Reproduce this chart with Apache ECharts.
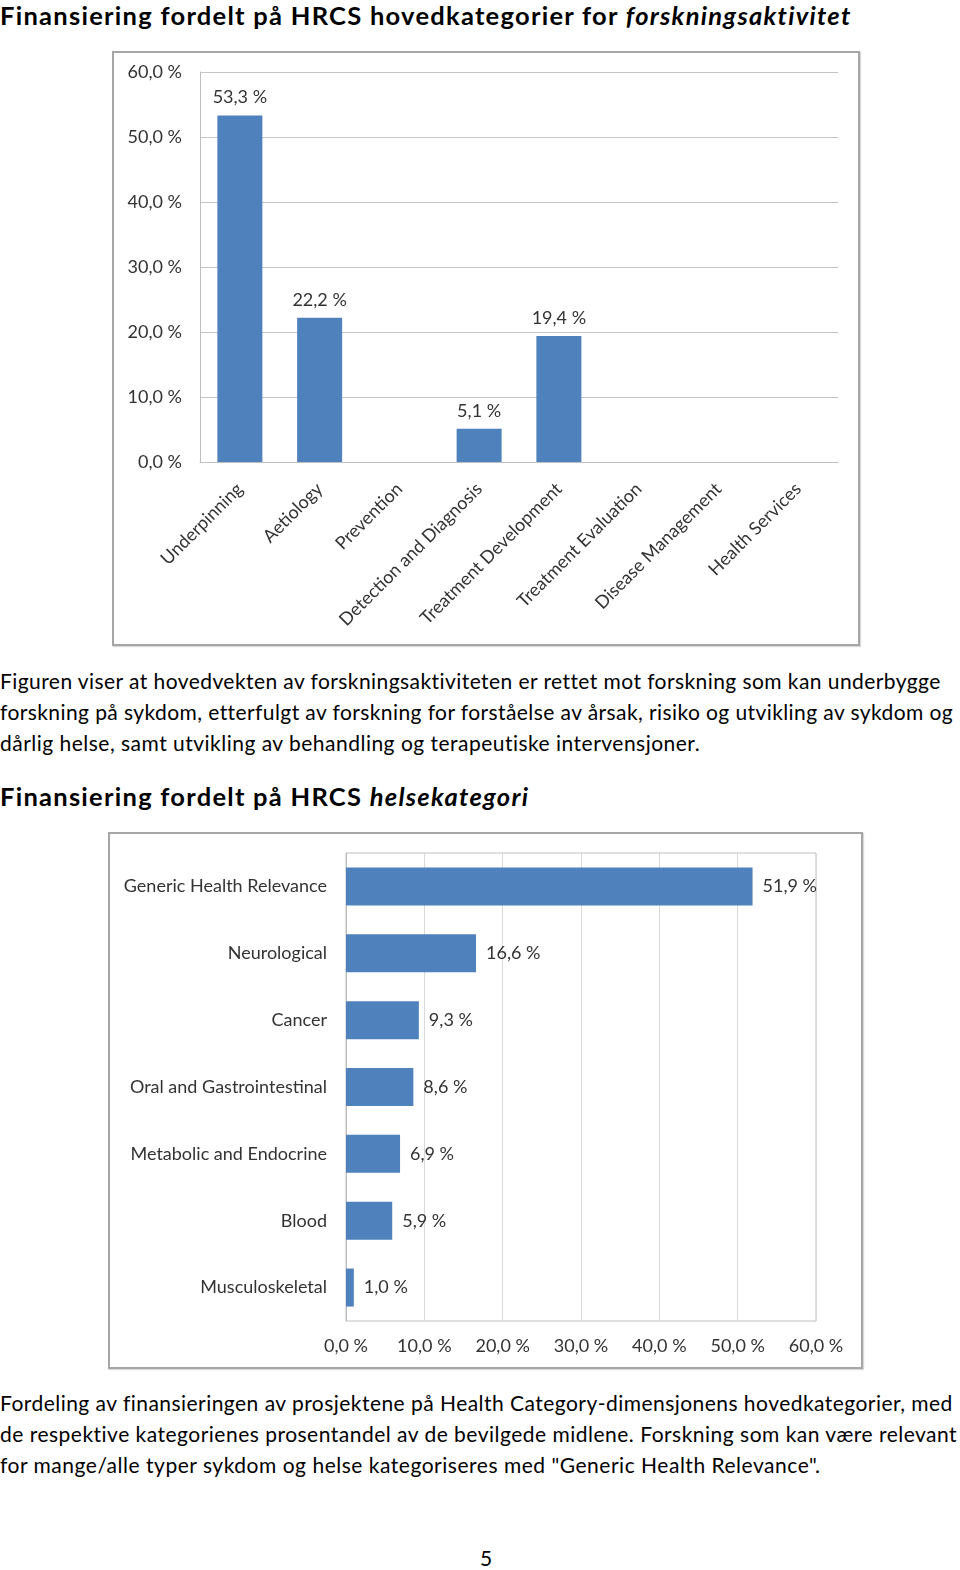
<!DOCTYPE html>
<html><head><meta charset="utf-8">
<script src="https://cdn.jsdelivr.net/npm/echarts/dist/echarts.min.js"></script>
<style>
html,body{margin:0;padding:0;background:#fff;}
#page{position:relative;width:960px;height:1570px;overflow:hidden;background:#fff;font-family:Lato,"Open Sans",sans-serif;color:#000;}
.ln{position:absolute;left:0;white-space:nowrap;}
.h{font-weight:bold;font-size:25.5px;line-height:30px;}
.p{font-size:21px;line-height:26px;}
.box{position:absolute;border:2px solid #a6a6a6;box-shadow:1px 1px 1px rgba(0,0,0,0.15);}
</style></head>
<body><div id="page">
<div class="ln h" data-w="850" style="top:0px">Finansiering fordelt på HRCS hovedkategorier for <i>forskningsaktivitet</i></div>
<div id="c1" class="box" style="left:112px;top:51px;width:744px;height:591px;"></div>
<div class="ln p" data-w="940" style="top:668px">Figuren viser at hovedvekten av forskningsaktiviteten er rettet mot forskning som kan underbygge</div>
<div class="ln p" data-w="952" style="top:699px">forskning på sykdom, etterfulgt av forskning for forståelse av årsak, risiko og utvikling av sykdom og</div>
<div class="ln p" data-w="700" style="top:730px">dårlig helse, samt utvikling av behandling og terapeutiske intervensjoner.</div>
<div class="ln h" data-w="528" style="top:781px">Finansiering fordelt på HRCS <i>helsekategori</i></div>
<div id="c2" class="box" style="left:108px;top:832px;width:751px;height:533px;"></div>
<div class="ln p" data-w="952" style="top:1390px">Fordeling av finansieringen av prosjektene på Health Category-dimensjonens hovedkategorier, med</div>
<div class="ln p" data-w="957" style="top:1421px">de respektive kategorienes prosentandel av de bevilgede midlene. Forskning som kan være relevant</div>
<div class="ln p" data-w="820" style="top:1452px">for mange/alle typer sykdom og helse kategoriseres med "Generic Health Relevance".</div>
<div class="ln p" style="top:1545px;left:480px;font-size:21px;">5</div>
</div>
<script>
// ---- data ----
const activityCategories = ['Underpinning','Aetiology','Prevention','Detection and Diagnosis','Treatment Development','Treatment Evaluation','Disease Management','Health Services'];
const activityValues = [53.3, 22.2, null, 5.1, 19.4, null, null, null];
const healthCategories = ['Generic Health Relevance','Neurological','Cancer','Oral and Gastrointestinal','Metabolic and Endocrine','Blood','Musculoskeletal'];
const healthValues = [51.9, 16.6, 9.3, 8.6, 6.9, 5.9, 1.0];
const tickValues = [0, 10, 20, 30, 40, 50, 60];
const tickLabels = ['0,0 %','10,0 %','20,0 %','30,0 %','40,0 %','50,0 %','60,0 %'];

// fit text lines to measured widths
document.querySelectorAll('[data-w]').forEach(el => {
  const target = +el.dataset.w;
  const n = el.textContent.length;
  const w = el.getBoundingClientRect().width;
  el.style.letterSpacing = ((target - w) / (n - 1)) + 'px';
});

const FONT = 'Lato';
const TXT = '#333333';
const BLUE = '#4f81bd';
const FS = 18;
const fmtVal = v => v.toFixed(1).replace('.', ',') + ' %';
const fmtTick = v => tickLabels[tickValues.indexOf(v)] ?? '';

const c1 = echarts.init(document.getElementById('c1'), null, {renderer: 'canvas'});
c1.setOption({
  animation: false,
  grid: {left: 86, top: 19, right: 20, bottom: 182},
  xAxis: {
    type: 'category', data: activityCategories,
    axisLine: {lineStyle: {color: '#bfbfbf'}},
    axisTick: {show: false},
    axisLabel: {interval: 0, rotate: 45, margin: 24, fontSize: FS, color: TXT, fontFamily: FONT}
  },
  yAxis: {
    type: 'value', min: 0, max: 60, interval: 10,
    axisLine: {show: true, lineStyle: {color: '#bfbfbf'}},
    axisTick: {show: false},
    splitLine: {lineStyle: {color: '#c4c4c4'}},
    axisLabel: {margin: 18, fontSize: FS, color: TXT, fontFamily: FONT, formatter: fmtTick}
  },
  series: [{
    type: 'bar', data: activityValues, barWidth: 45,
    itemStyle: {color: BLUE},
    label: {show: true, position: 'top', distance: 9, fontSize: FS, color: TXT, fontFamily: FONT,
      formatter: p => p.value == null ? '' : fmtVal(p.value)}
  }]
});

const c2 = echarts.init(document.getElementById('c2'), null, {renderer: 'canvas'});
c2.setOption({
  animation: false,
  grid: {left: 236, top: 19, right: 45, bottom: 46, show: true, borderColor: '#bfbfbf', borderWidth: 1},
  yAxis: {
    type: 'category', data: healthCategories, inverse: true,
    axisLine: {lineStyle: {color: '#bfbfbf'}},
    axisTick: {show: false},
    axisLabel: {margin: 19, fontSize: FS, color: TXT, fontFamily: FONT}
  },
  xAxis: {
    type: 'value', min: 0, max: 60, interval: 10,
    axisLine: {show: false},
    axisTick: {show: false},
    splitLine: {lineStyle: {color: '#d9d9d9'}},
    axisLabel: {margin: 16, fontSize: FS, color: TXT, fontFamily: FONT, formatter: fmtTick}
  },
  series: [{
    type: 'bar', data: healthValues, barWidth: 38,
    itemStyle: {color: BLUE},
    label: {show: true, position: 'right', distance: 10, fontSize: FS, color: TXT, fontFamily: FONT,
      formatter: p => fmtVal(p.value)}
  }]
});
</script>
</body></html>
